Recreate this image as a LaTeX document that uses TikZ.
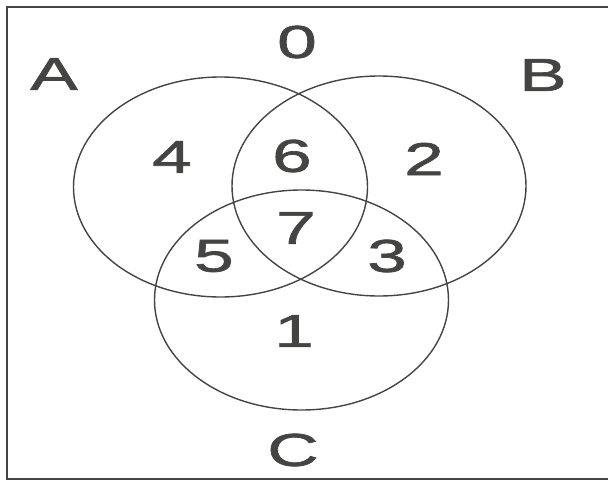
\documentclass[tikz,border=0pt]{standalone}
\usepackage{fontspec}
\setmainfont{Liberation Sans}
\newfontfamily\vennfont[FakeStretch=1.55,FakeBold=1.5]{Liberation Sans}
\usetikzlibrary{shapes.geometric}
\definecolor{ink}{HTML}{444442}
\tikzset{
  set/.style  = {ellipse, draw=ink, line width=1.4pt,
                 minimum width=294pt, minimum height=220pt, inner sep=0pt},
  num/.style  = {text=ink, inner sep=0pt,
                 font=\vennfont\fontsize{46}{50}\selectfont},
  frame/.style= {draw=ink, line width=1.6pt},
}

\begin{document}
\begin{tikzpicture}[x=1pt, y=-1pt]
  \useasboundingbox (0,0) rectangle (608,482);

  % ── Frame (open on the right) ───────────────────────────────────
  \draw[frame] (620,7) -- (7,7) -- (7,479) -- (620,479);

  % ── The three sets ──────────────────────────────────────────────
  \node[set] (setA) at (220.5,187) {};
  \node[set] (setB) at (379,186) {};
  \node[set] (setC) at (301.5,300) {};

  % ── Set names ───────────────────────────────────────────────────
  \node[num] (nameA) at (54,74)  {A};
  \node[num] (nameB) at (543,75) {B};
  \node[num] (nameC) at (293,450) {C};

  % ── Region numbers ──────────────────────────────────────────────
  \node[num] (r0) at (297,42)  {0};
  \node[num] (r4) at (172,157) {4};
  \node[num] (r6) at (292,156) {6};
  \node[num] (r2) at (424,159) {2};
  \node[num] (r7) at (296,228) {7};
  \node[num] (r5) at (214,256) {5};
  \node[num] (r3) at (387,256) {3};
  \node[num] (r1) at (294,331) {1};

\end{tikzpicture}
\end{document}
